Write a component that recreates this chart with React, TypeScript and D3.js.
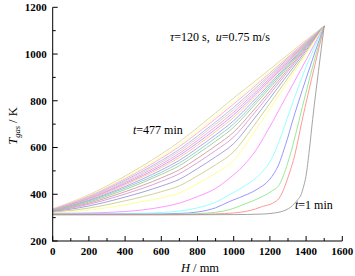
import React from "react";
import * as d3 from "d3";

// ---- data ----
const X_TICKS = [0, 200, 400, 600, 800, 1000, 1200, 1400, 1600];
const Y_TICKS = [200, 400, 600, 800, 1000, 1200];
const X_MINOR = [100, 300, 500, 700, 900, 1100, 1300, 1500];
const Y_MINOR = [300, 500, 700, 900, 1100];

// early curves, each with its own H grid (mm) and gas temperature (K)
const c01H = [0, 600, 1000, 1150, 1216, 1260, 1289, 1315, 1335, 1355, 1372, 1385, 1399, 1418, 1436, 1468, 1500];
const c01T = [312, 312, 313, 315, 319, 325, 333, 345, 360, 378, 398, 430, 476, 590, 720, 925, 1120];
const c02H = [0, 700, 900, 1000, 1069, 1120, 1160, 1216, 1252, 1270, 1289, 1312, 1335, 1355, 1377, 1410, 1450, 1500];
const c02T = [313, 313, 316, 320, 327, 337, 348, 362, 384, 410, 448, 500, 560, 630, 712, 826, 957, 1120];
const c03H = [0, 600, 800, 900, 977, 1050, 1142, 1207, 1252, 1275, 1298, 1320, 1340, 1360, 1400, 1450, 1500];
const c03T = [314, 314, 317, 323, 334, 355, 384, 412, 441, 480, 533, 590, 650, 712, 838, 985, 1120];
const c04H = [0, 500, 700, 800, 900, 977, 1032, 1124, 1197, 1225, 1252, 1275, 1298, 1320, 1360, 1400, 1450, 1500];
const c04T = [315, 315, 318, 324, 342, 369, 386, 419, 462, 492, 533, 585, 640, 700, 800, 895, 1010, 1120];
const c05H = [0, 300, 500, 700, 800, 900, 977, 1069, 1151, 1216, 1240, 1262, 1289, 1330, 1400, 1450, 1500];
const c05T = [316, 316, 319, 328, 342, 366, 398, 440, 490, 562, 605, 650, 710, 800, 945, 1035, 1120];
const c06H = [0, 200, 400, 600, 700, 800, 900, 977, 1050, 1124, 1179, 1216, 1260, 1300, 1400, 1500];
const c06T = [318, 320, 326, 345, 362, 390, 425, 469, 519, 590, 661, 712, 775, 832, 975, 1120];

// later curves on a common H grid
const GRID_H = [0, 200, 400, 600, 700, 800, 900, 1000, 1100, 1200, 1300, 1400, 1500];
const c07T = [320, 332, 355, 385, 405, 445, 490, 545, 650, 765, 882, 1000, 1120];
const c08T = [323, 341, 372, 411, 436, 479, 526, 582, 681, 789, 898, 1008, 1120];
const c09T = [325, 350, 388, 435, 464, 510, 560, 617, 710, 811, 913, 1016, 1120];
const c10T = [327, 357, 401, 455, 488, 535, 587, 645, 734, 829, 926, 1023, 1120];
const c11T = [328, 362, 411, 470, 505, 554, 607, 666, 751, 842, 935, 1027, 1120];
const c12T = [330, 367, 420, 485, 522, 573, 627, 687, 769, 855, 944, 1032, 1120];
const c13T = [331, 371, 427, 494, 534, 585, 641, 701, 780, 864, 950, 1035, 1120];
const c14T = [331, 374, 433, 504, 545, 598, 654, 715, 792, 873, 956, 1038, 1120];
const c15T = [332, 377, 440, 514, 557, 610, 668, 729, 804, 882, 962, 1041, 1120];
const c16T = [333, 380, 445, 521, 566, 620, 678, 740, 813, 889, 967, 1044, 1120];
const c17T = [334, 383, 450, 529, 575, 630, 689, 751, 822, 896, 972, 1046, 1120];
const c18T = [335, 386, 455, 537, 584, 640, 700, 762, 831, 903, 976, 1049, 1120];
const c19T = [335, 388, 460, 544, 592, 649, 709, 772, 840, 910, 981, 1051, 1120];
const c20T = [336, 392, 466, 554, 604, 662, 723, 786, 851, 919, 987, 1054, 1120];
const c21T = [337, 394, 471, 561, 612, 671, 733, 796, 860, 925, 991, 1056, 1120];
const c22T = [338, 398, 478, 572, 625, 685, 748, 812, 873, 935, 998, 1060, 1120];

const COLORS = [
  "#9a9a9a", "#ff8c8c", "#8ce68c", "#8c8cff", "#8cffff", "#ff8cff", "#ffff8c",
  "#cccc8c", "#9a9ad6", "#d69ad6", "#d69a9a", "#9acc9a", "#8cc8c8", "#a0a0ee",
  "#ffc48c", "#c49aff", "#ff9ac8", "#d0d0d0", "#b4b4e6", "#ffa8dc", "#ffff9a", "#d8d8a4",
];

const CURVES: { h: number[]; t: number[] }[] = [
  { h: c01H, t: c01T }, { h: c02H, t: c02T }, { h: c03H, t: c03T },
  { h: c04H, t: c04T }, { h: c05H, t: c05T }, { h: c06H, t: c06T },
  { h: GRID_H, t: c07T }, { h: GRID_H, t: c08T }, { h: GRID_H, t: c09T },
  { h: GRID_H, t: c10T }, { h: GRID_H, t: c11T }, { h: GRID_H, t: c12T },
  { h: GRID_H, t: c13T }, { h: GRID_H, t: c14T }, { h: GRID_H, t: c15T },
  { h: GRID_H, t: c16T }, { h: GRID_H, t: c17T }, { h: GRID_H, t: c18T },
  { h: GRID_H, t: c19T }, { h: GRID_H, t: c20T }, { h: GRID_H, t: c21T },
  { h: GRID_H, t: c22T },
];

const FONT = "'Liberation Serif', 'DejaVu Serif', serif";

export default function App() {
  const W = 355, H = 276;
  const x = d3.scaleLinear().domain([0, 1600]).range([52.7, 342.3]);
  const y = d3.scaleLinear().domain([200, 1200]).range([241, 7.3]);
  const line = d3
    .line<[number, number]>()
    .x((d) => x(d[0]))
    .y((d) => y(d[1]))
    .curve(d3.curveMonotoneX);

  const x0 = x(0), y0 = y(200);

  return (
    <svg width={W} height={H} style={{ position: "absolute", left: 0, top: 0, background: "#fff" }} fontFamily={FONT}>
      {CURVES.map((c, i) => ({ c, i }))
        .reverse()
        .map(({ c, i }) => (
          <path
            key={i}
            d={line(c.h.map((hv, j) => [hv, c.t[j]] as [number, number])) || ""}
            fill="none"
            stroke={COLORS[i]}
            strokeWidth={0.9}
          />
        ))}

      {/* axes */}
      <line x1={x0} x2={x0} y1={y(1200)} y2={y0 + 0.5} stroke="#000" strokeWidth={1} />
      <line x1={x0 - 0.5} x2={x(1600)} y1={y0} y2={y0} stroke="#000" strokeWidth={1} />

      {Y_TICKS.map((v) => (
        <g key={"yt" + v}>
          <line x1={x0} x2={x0 + 5} y1={y(v)} y2={y(v)} stroke="#000" strokeWidth={1} />
          <text x={x0 - 6} y={y(v)} dy="0.35em" textAnchor="end" fontSize={11} fontWeight="bold">
            {v}
          </text>
        </g>
      ))}
      {Y_MINOR.map((v) => (
        <line key={"ym" + v} x1={x0} x2={x0 + 3} y1={y(v)} y2={y(v)} stroke="#000" strokeWidth={1} />
      ))}
      {X_TICKS.map((v) => (
        <g key={"xt" + v}>
          <line x1={x(v)} x2={x(v)} y1={y0} y2={y0 - 5} stroke="#000" strokeWidth={1} />
          <text x={x(v)} y={y0 + 14} textAnchor="middle" fontSize={11} fontWeight="bold">
            {v}
          </text>
        </g>
      ))}
      {X_MINOR.map((v) => (
        <line key={"xm" + v} x1={x(v)} x2={x(v)} y1={y0} y2={y0 - 3} stroke="#000" strokeWidth={1} />
      ))}

      {/* axis titles */}
      <text x={200} y={272} textAnchor="middle" fontSize={12.5}>
        <tspan fontStyle="italic">H</tspan> / mm
      </text>
      <text transform={`translate(17, ${126}) rotate(-90)`} textAnchor="middle" fontSize={12.5}>
        <tspan fontStyle="italic">T</tspan>
        <tspan fontStyle="italic" fontSize={8.5} dy={3}>gas</tspan>
        <tspan dy={-3}> / K</tspan>
      </text>

      {/* annotations */}
      <text x={170} y={41} fontSize={12}>
        <tspan fontStyle="italic">τ</tspan>{"=120 s,\u00A0\u00A0"}<tspan fontStyle="italic">u</tspan>=0.75 m/s
      </text>
      <text x={133} y={134} fontSize={12}>
        <tspan fontStyle="italic">t</tspan>=477 min
      </text>
      <text x={295} y={209} fontSize={12}>
        <tspan fontStyle="italic">t</tspan>=1 min
      </text>
    </svg>
  );
}
